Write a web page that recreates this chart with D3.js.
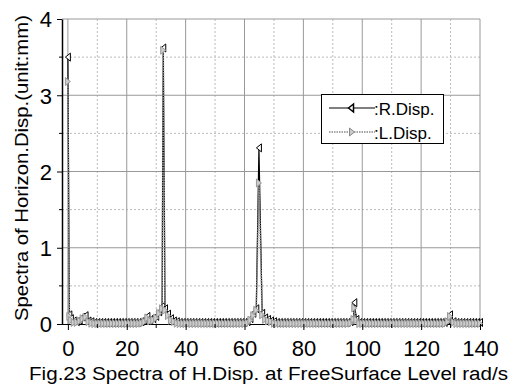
<!DOCTYPE html>
<html>
<head>
<meta charset="utf-8">
<script src="https://cdn.jsdelivr.net/npm/d3@7"></script>
<style>
  body { margin: 0; background: #fff; }
  svg { display: block; }
</style>
</head>
<body>
<div class="container"></div>
<script>
(function () {

    //frequency (rad/s) sampled along the spectrum
    var freqs = [0, 0.5, 1, 2, 3, 4, 5, 6, 7, 8, 9, 10, 11, 12, 13, 14, 15, 16, 17, 18, 19, 20,
        21, 22, 23, 24, 25, 26, 27, 28, 29, 30, 31, 32, 32.4, 33, 34, 35, 36, 37, 38, 39, 40,
        41, 42, 43, 44, 45, 46, 47, 48, 49, 50, 51, 52, 53, 54, 55, 56, 57, 58, 59, 60,
        61, 62, 63, 64, 64.9, 66, 67, 68, 69, 70, 71, 72, 73, 74, 75, 76, 77, 78, 79, 80,
        81, 82, 83, 84, 85, 86, 87, 88, 89, 90, 91, 92, 93, 94, 95, 96, 97, 97.3, 98, 99, 100,
        101, 102, 103, 104, 105, 106, 107, 108, 109, 110, 111, 112, 113, 114, 115, 116, 117, 118, 119, 120,
        121, 122, 123, 124, 125, 126, 127, 128, 129, 129.8, 131, 132, 133, 134, 135, 136, 137, 138, 139, 140];

    //R.Disp. spectrum (mm)
    var rDisp = [3.50, 0.12, 0.07, 0.04, 0.03, 0.05, 0.09, 0.11, 0.04, 0.03, 0.02, 0.02, 0.02, 0.02, 0.02, 0.02, 0.02, 0.02, 0.02, 0.02, 0.02, 0.02,
        0.02, 0.02, 0.02, 0.02, 0.03, 0.05, 0.10, 0.06, 0.07, 0.10, 0.16, 0.23, 3.62, 0.20, 0.13, 0.07, 0.04, 0.03, 0.02, 0.02, 0.02,
        0.02, 0.02, 0.02, 0.02, 0.02, 0.02, 0.02, 0.02, 0.02, 0.02, 0.02, 0.02, 0.02, 0.02, 0.02, 0.02, 0.02, 0.02, 0.02, 0.02,
        0.03, 0.07, 0.14, 0.20, 2.31, 0.14, 0.08, 0.06, 0.04, 0.03, 0.02, 0.02, 0.02, 0.02, 0.02, 0.02, 0.02, 0.02, 0.02, 0.02,
        0.02, 0.02, 0.02, 0.02, 0.02, 0.02, 0.02, 0.02, 0.02, 0.02, 0.02, 0.02, 0.02, 0.02, 0.02, 0.03, 0.08, 0.28, 0.06, 0.02, 0.02,
        0.02, 0.02, 0.02, 0.02, 0.02, 0.02, 0.02, 0.02, 0.02, 0.02, 0.02, 0.02, 0.02, 0.02, 0.02, 0.02, 0.02, 0.02, 0.02, 0.02,
        0.02, 0.02, 0.02, 0.02, 0.02, 0.02, 0.02, 0.02, 0.05, 0.12, 0.03, 0.02, 0.02, 0.02, 0.02, 0.02, 0.02, 0.02, 0.02, 0.02];

    //L.Disp. spectrum (mm)
    var lDisp = [3.18, 0.10, 0.05, 0.02, 0.02, 0.04, 0.07, 0.09, 0.03, 0.01, 0.005, 0.005, 0.005, 0.005, 0.005, 0.005, 0.005, 0.005, 0.005, 0.005, 0.005, 0.005,
        0.005, 0.005, 0.005, 0.005, 0.01, 0.03, 0.08, 0.04, 0.05, 0.08, 0.14, 0.20, 3.59, 0.18, 0.11, 0.05, 0.03, 0.01, 0.005, 0.005, 0.005,
        0.005, 0.005, 0.005, 0.005, 0.005, 0.005, 0.005, 0.005, 0.005, 0.005, 0.005, 0.005, 0.005, 0.005, 0.005, 0.005, 0.005, 0.005, 0.005, 0.005,
        0.01, 0.05, 0.11, 0.18, 1.85, 0.12, 0.06, 0.04, 0.03, 0.01, 0.005, 0.005, 0.005, 0.005, 0.005, 0.005, 0.005, 0.005, 0.005, 0.005,
        0.005, 0.005, 0.005, 0.005, 0.005, 0.005, 0.005, 0.005, 0.005, 0.005, 0.005, 0.005, 0.005, 0.005, 0.005, 0.01, 0.06, 0.21, 0.05, 0.005, 0.005,
        0.005, 0.005, 0.005, 0.005, 0.005, 0.005, 0.005, 0.005, 0.005, 0.005, 0.005, 0.005, 0.005, 0.005, 0.005, 0.005, 0.005, 0.005, 0.005, 0.005,
        0.005, 0.005, 0.005, 0.005, 0.005, 0.005, 0.005, 0.005, 0.03, 0.10, 0.02, 0.005, 0.005, 0.005, 0.005, 0.005, 0.005, 0.005, 0.005, 0.005];

    var xTicks = [0, 20, 40, 60, 80, 100, 120, 140];
    var xMinor = [10, 30, 50, 70, 90, 110, 130];
    var yTicks = [0, 1, 2, 3, 4];
    var yMinor = [0.5, 1.5, 2.5, 3.5];
    var seriesNames = [":R.Disp.", ":L.Disp."];
    var titleText = "Fig.23 Spectra of H.Disp. at FreeSurface Level rad/s";
    var yLabel = "Spectra of Horizon.Disp.(unit:mm)";

    var width = 512, height = 385;
    var left = 62, right = 480, top = 19, bottom = 324;
    var sansFont = "'Liberation Sans', Arial, sans-serif";

    var svg = d3.select(".container")
        .append("svg")
        .attr("width", width)
        .attr("height", height);

    var x = d3.scaleLinear().domain([-2, 140]).range([left, right]);
    var y = d3.scaleLinear().domain([0, 4]).range([bottom, top]);

    //grid, minor dashed first
    var grid = svg.append("g");
    grid.selectAll(".vMinor").data(xMinor).enter().append("line")
        .attr("x1", function (d) { return x(d); }).attr("x2", function (d) { return x(d); })
        .attr("y1", top).attr("y2", bottom)
        .style("stroke", "#bbb").style("stroke-dasharray", "2,2");
    grid.selectAll(".hMinor").data(yMinor).enter().append("line")
        .attr("x1", left).attr("x2", right)
        .attr("y1", function (d) { return y(d); }).attr("y2", function (d) { return y(d); })
        .style("stroke", "#bbb").style("stroke-dasharray", "2,2");
    grid.selectAll(".vMajor").data(xTicks).enter().append("line")
        .attr("x1", function (d) { return x(d); }).attr("x2", function (d) { return x(d); })
        .attr("y1", top).attr("y2", bottom)
        .style("stroke", "#999");
    grid.selectAll(".hMajor").data(yTicks.slice(1)).enter().append("line")
        .attr("x1", left).attr("x2", right)
        .attr("y1", function (d) { return y(d); }).attr("y2", function (d) { return y(d); })
        .style("stroke", "#999");

    //x axis line goes under the markers
    svg.append("line")
        .attr("x1", left).attr("x2", right)
        .attr("y1", bottom + 0.5).attr("y2", bottom + 0.5)
        .style("stroke", "#000");

    //series
    var rData = freqs.map(function (f, i) { return [f, rDisp[i]]; });
    var lData = freqs.map(function (f, i) { return [f, lDisp[i]]; });
    var line = d3.line()
        .x(function (d) { return x(d[0]); })
        .y(function (d) { return y(d[1]); });

    var leftTri = "M-2.5,0L2.5,-4L2.5,4Z";
    var rightTri = "M2.5,0L-2.5,-4L-2.5,4Z";

    svg.append("path").datum(rData).attr("d", line)
        .style("fill", "none").style("stroke", "#000").style("stroke-width", 1.2);
    svg.selectAll(".rMark").data(rData).enter().append("path")
        .attr("class", "rMark")
        .attr("d", leftTri)
        .attr("transform", function (d) { return "translate(" + x(d[0]) + "," + y(d[1]) + ")"; })
        .style("fill", "#fff").style("stroke", "#000").style("stroke-width", 1);

    svg.append("path").datum(lData).attr("d", line)
        .style("fill", "none").style("stroke", "#888").style("stroke-width", 1.6)
        .style("stroke-dasharray", "1.5,1");
    svg.selectAll(".lMark").data(lData).enter().append("path")
        .attr("class", "lMark")
        .attr("d", rightTri)
        .attr("transform", function (d) { return "translate(" + x(d[0]) + "," + y(d[1]) + ")"; })
        .style("fill", "#ccc").style("stroke", "#999").style("stroke-width", 1);

    //axes
    var xAxis = d3.axisBottom(x).tickValues(xTicks).tickFormat(d3.format("d"))
        .tickSize(6).tickPadding(10).tickSizeOuter(0);
    var gx = svg.append("g")
        .attr("transform", "translate(0," + bottom + ")")
        .call(xAxis);
    gx.select(".domain").remove();
    gx.selectAll(".tick text")
        .style("font-family", sansFont).style("font-size", "22px").attr("dy", "0.71em");
    gx.selectAll(".minor").data(xMinor).enter().append("line")
        .attr("class", "minor")
        .attr("x1", function (d) { return x(d); }).attr("x2", function (d) { return x(d); })
        .attr("y1", 0).attr("y2", 4)
        .style("stroke", "#000");

    var yAxis = d3.axisLeft(y).tickValues(yTicks).tickFormat(d3.format("d"))
        .tickSize(5).tickPadding(5).tickSizeOuter(0);
    var gy = svg.append("g")
        .attr("transform", "translate(" + left + ",0)")
        .call(yAxis);
    gy.select(".domain").style("stroke", "#000").style("stroke-width", 1.5);
    gy.selectAll(".tick text")
        .style("font-family", sansFont).style("font-size", "22px").attr("dy", "0.36em");
    gy.selectAll(".minor").data(yMinor).enter().append("line")
        .attr("class", "minor")
        .attr("x1", -3).attr("x2", 0)
        .attr("y1", function (d) { return y(d); }).attr("y2", function (d) { return y(d); })
        .style("stroke", "#000");

    //legend
    var legend = svg.append("g");
    legend.append("rect")
        .attr("x", 321.5).attr("y", 94.5).attr("width", 122).attr("height", 49)
        .style("fill", "#fff").style("stroke", "#000");
    legend.append("line").attr("x1", 329).attr("x2", 375).attr("y1", 108).attr("y2", 108)
        .style("stroke", "#000").style("stroke-width", 1.2);
    legend.append("path").attr("d", leftTri).attr("transform", "translate(351,108)")
        .style("fill", "#fff").style("stroke", "#000").style("stroke-width", 1.5);
    legend.append("line").attr("x1", 329).attr("x2", 375).attr("y1", 132).attr("y2", 132)
        .style("stroke", "#888").style("stroke-width", 1.6).style("stroke-dasharray", "1.5,1");
    legend.append("path").attr("d", rightTri).attr("transform", "translate(352,132)")
        .style("fill", "#ccc").style("stroke", "#888");
    legend.selectAll(".legText").data(seriesNames).enter().append("text")
        .attr("x", 374)
        .attr("y", function (d, i) { return 115 + i * 24; })
        .style("font-family", sansFont)
        .style("font-size", "17px")
        .text(function (d) { return d; });

    //labels
    svg.append("text")
        .attr("transform", "translate(28,168) rotate(-90)")
        .attr("text-anchor", "middle")
        .attr("textLength", 306).attr("lengthAdjust", "spacingAndGlyphs")
        .style("font-family", sansFont)
        .style("font-size", "19px")
        .text(yLabel);

    svg.append("text")
        .attr("x", 29).attr("y", 380)
        .attr("textLength", 479).attr("lengthAdjust", "spacingAndGlyphs")
        .style("font-family", sansFont)
        .style("font-size", "18px")
        .text(titleText);

})();
</script>
</body>
</html>
